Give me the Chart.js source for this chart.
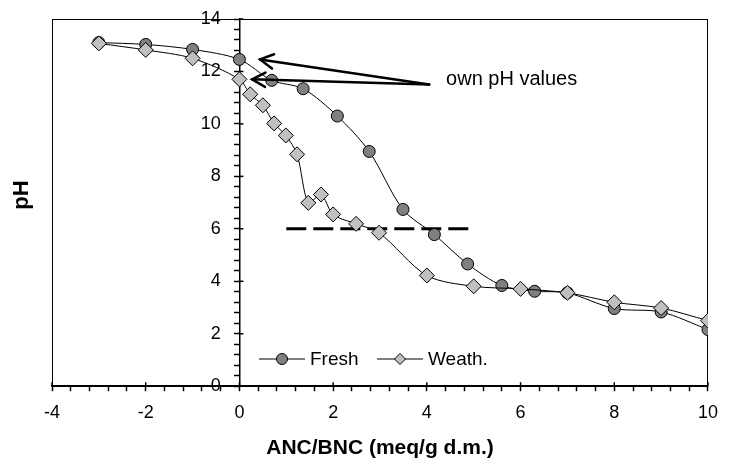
<!DOCTYPE html>
<html>
<head>
<meta charset="utf-8">
<script src="https://cdn.jsdelivr.net/npm/chart.js@4.4.1/dist/chart.umd.min.js"></script>
<style>
  html, body { margin: 0; padding: 0; background: #fff; }
  #wrap { width: 729px; height: 468px; }
</style>
</head>
<body>
<div id="wrap"><canvas id="c" width="729" height="468"></canvas></div>
<script>
// titration curves
const freshX  = [-3, -2, -1, 0, 0.69, 1.36, 2.09, 2.77, 3.49, 4.16, 4.87, 5.6, 6.3, 7, 8, 9, 10];
const freshPH = [13.1, 13.03, 12.84, 12.46, 11.66, 11.34, 10.3, 8.95, 6.74, 5.78, 4.66, 3.84, 3.62, 3.56, 2.96, 2.83, 2.16];
const weathX  = [-3, -2, -1, 0, 0.23, 0.5, 0.74, 0.99, 1.23, 1.47, 1.74, 2, 2.49, 2.98, 4, 5, 6, 7, 8, 9, 10];
const weathPH = [13.07, 12.82, 12.5, 11.7, 11.13, 10.71, 10.02, 9.56, 8.84, 6.99, 7.31, 6.55, 6.19, 5.85, 4.22, 3.81, 3.71, 3.56, 3.2, 2.98, 2.5];
const refX  = [1, 5];   // dashed pH 6 line
const refPH = [6, 6];
const xTicks = [-4, -2, 0, 2, 4, 6, 8, 10];
const yTicks = [0, 2, 4, 6, 8, 10, 12, 14];
const arrowTail  = [4.05, 11.5];
const arrowHeads = [[0.44, 12.46], [0.27, 11.7]];
const noteText = "own pH values";
const notePos  = [4.41, 11.7];

const FONT = "'Liberation Sans', Arial, sans-serif";
const pts = (xs, ys) => xs.map((x, i) => ({ x, y: ys[i] }));
const isMajor = (list, v) => list.some((t) => Math.abs(t - v) < 1e-6);

function marker(ctx, style, cx, cy, r, fill) {
  ctx.beginPath();
  if (style === "circle") ctx.arc(cx, cy, r, 0, Math.PI * 2);
  else { ctx.moveTo(cx, cy - r); ctx.lineTo(cx + r, cy); ctx.lineTo(cx, cy + r); ctx.lineTo(cx - r, cy); ctx.closePath(); }
  ctx.fillStyle = fill; ctx.fill();
  ctx.lineWidth = 1; ctx.strokeStyle = "#000"; ctx.stroke();
}

const frame = {
  id: "frame",
  beforeDatasetsDraw(chart) {
    const { ctx, chartArea: a, scales: { x, y } } = chart;
    ctx.save();
    ctx.strokeStyle = "#000"; ctx.lineWidth = 1;
    ctx.strokeRect(Math.round(a.left) + 0.5, Math.round(a.top) + 0.5, Math.round(a.right - a.left) - 1, Math.round(a.bottom - a.top));
    // major ticks cross the axis lines
    ctx.lineWidth = 1.5;
    const x0 = x.getPixelForValue(0);
    xTicks.forEach((v) => { const p = x.getPixelForValue(v); ctx.beginPath(); ctx.moveTo(p, a.bottom); ctx.lineTo(p, a.bottom - 4); ctx.stroke(); });
    yTicks.forEach((v) => { const p = y.getPixelForValue(v); ctx.beginPath(); ctx.moveTo(x0, p); ctx.lineTo(x0 + 4, p); ctx.stroke(); });
    ctx.restore();
  },
  afterDraw(chart) {
    const { ctx, scales: { x, y } } = chart;
    ctx.save();
    // arrows to the own pH values
    const tx = x.getPixelForValue(arrowTail[0]), ty = y.getPixelForValue(arrowTail[1]);
    ctx.strokeStyle = "#000"; ctx.lineWidth = 2.5; ctx.lineCap = "round";
    arrowHeads.forEach(([hv, hp]) => {
      const hx = x.getPixelForValue(hv), hy = y.getPixelForValue(hp);
      ctx.beginPath(); ctx.moveTo(tx, ty); ctx.lineTo(hx, hy); ctx.stroke();
      const ang = Math.atan2(ty - hy, tx - hx);
      ctx.beginPath();
      ctx.moveTo(hx + 15 * Math.cos(ang + 0.5), hy + 15 * Math.sin(ang + 0.5));
      ctx.lineTo(hx, hy);
      ctx.lineTo(hx + 15 * Math.cos(ang - 0.5), hy + 15 * Math.sin(ang - 0.5));
      ctx.stroke();
    });
    ctx.fillStyle = "#000"; ctx.font = "20px " + FONT; ctx.textBaseline = "middle"; ctx.textAlign = "left";
    ctx.fillText(noteText, x.getPixelForValue(notePos[0]), y.getPixelForValue(notePos[1]));

    // legend inside the plot
    ctx.font = "19px " + FONT;
    ctx.lineWidth = 1; ctx.lineCap = "butt";
    [["Fresh", "circle", "#808080", 259], ["Weath.", "diamond", "#c0c0c0", 377]].forEach(([lbl, st, fill, lx]) => {
      const ly = 359;
      ctx.beginPath(); ctx.moveTo(lx, ly); ctx.lineTo(lx + 46, ly); ctx.stroke();
      marker(ctx, st, lx + 23, ly, 5.5, fill);
      ctx.fillStyle = "#000"; ctx.fillText(lbl, lx + 51, ly + 1);
    });

    // y axis title
    ctx.font = "bold 22px " + FONT; ctx.textAlign = "center";
    ctx.translate(22, 195); ctx.rotate(-Math.PI / 2);
    ctx.fillText("pH", 0, 0);
    ctx.restore();
  }
};

new Chart(document.getElementById("c"), {
  type: "line",
  data: {
    datasets: [
      { label: "Weath.", data: pts(weathX, weathPH), order: 1, borderColor: "#000", borderWidth: 1, tension: 0.3,
        pointStyle: "rectRot", pointRadius: 7.5, pointBackgroundColor: "#c0c0c0", pointBorderColor: "#000", pointBorderWidth: 1 },
      { label: "Fresh", data: pts(freshX, freshPH), order: 2, borderColor: "#000", borderWidth: 1, tension: 0.3,
        pointStyle: "circle", pointRadius: 6, pointBackgroundColor: "#808080", pointBorderColor: "#000", pointBorderWidth: 1 },
      { label: "pH 6", data: pts(refX, refPH), order: 3, borderColor: "#000", borderWidth: 3, borderDash: [20, 7],
        pointRadius: 0, tension: 0 }
    ]
  },
  options: {
    responsive: false, animation: false, devicePixelRatio: 1,
    layout: { padding: { left: 52, right: 2, top: 19, bottom: 0 } },
    plugins: { legend: { display: false }, tooltip: { enabled: false } },
    scales: {
      x: {
        type: "linear", position: "bottom", min: -4, max: 10,
        grid: { drawOnChartArea: false, tickLength: 5, tickColor: "#000", tickWidth: 1.5 },
        border: { color: "#000", width: 1.5 },
        ticks: { stepSize: 0.4, autoSkip: false, maxRotation: 0, padding: 11, color: "#000",
          font: { family: FONT, size: 18 }, callback: (v) => (isMajor(xTicks, v) ? String(Math.round(v)) : "") },
        title: { display: true, text: "ANC/BNC (meq/g d.m.)", color: "#000",
          font: { family: FONT, size: 21, weight: "bold" }, padding: { top: 1, bottom: 7 } }
      },
      y: {
        type: "linear", position: { x: 0 }, min: 0, max: 14,
        grid: { drawOnChartArea: false, tickLength: 5, tickColor: "#000", tickWidth: 1.5 },
        border: { color: "#000", width: 1.5 },
        // labels sit right-aligned on the axis line when it is placed at x = 0, so pad them with spaces
        ticks: { stepSize: 0.4, autoSkip: false, color: "#000",
          font: { family: FONT, size: 18 }, callback: (v) => (isMajor(yTicks, v) ? String(Math.round(v)) + "   \u2009" : "") }
      }
    }
  },
  plugins: [frame]
});
</script>
</body>
</html>
